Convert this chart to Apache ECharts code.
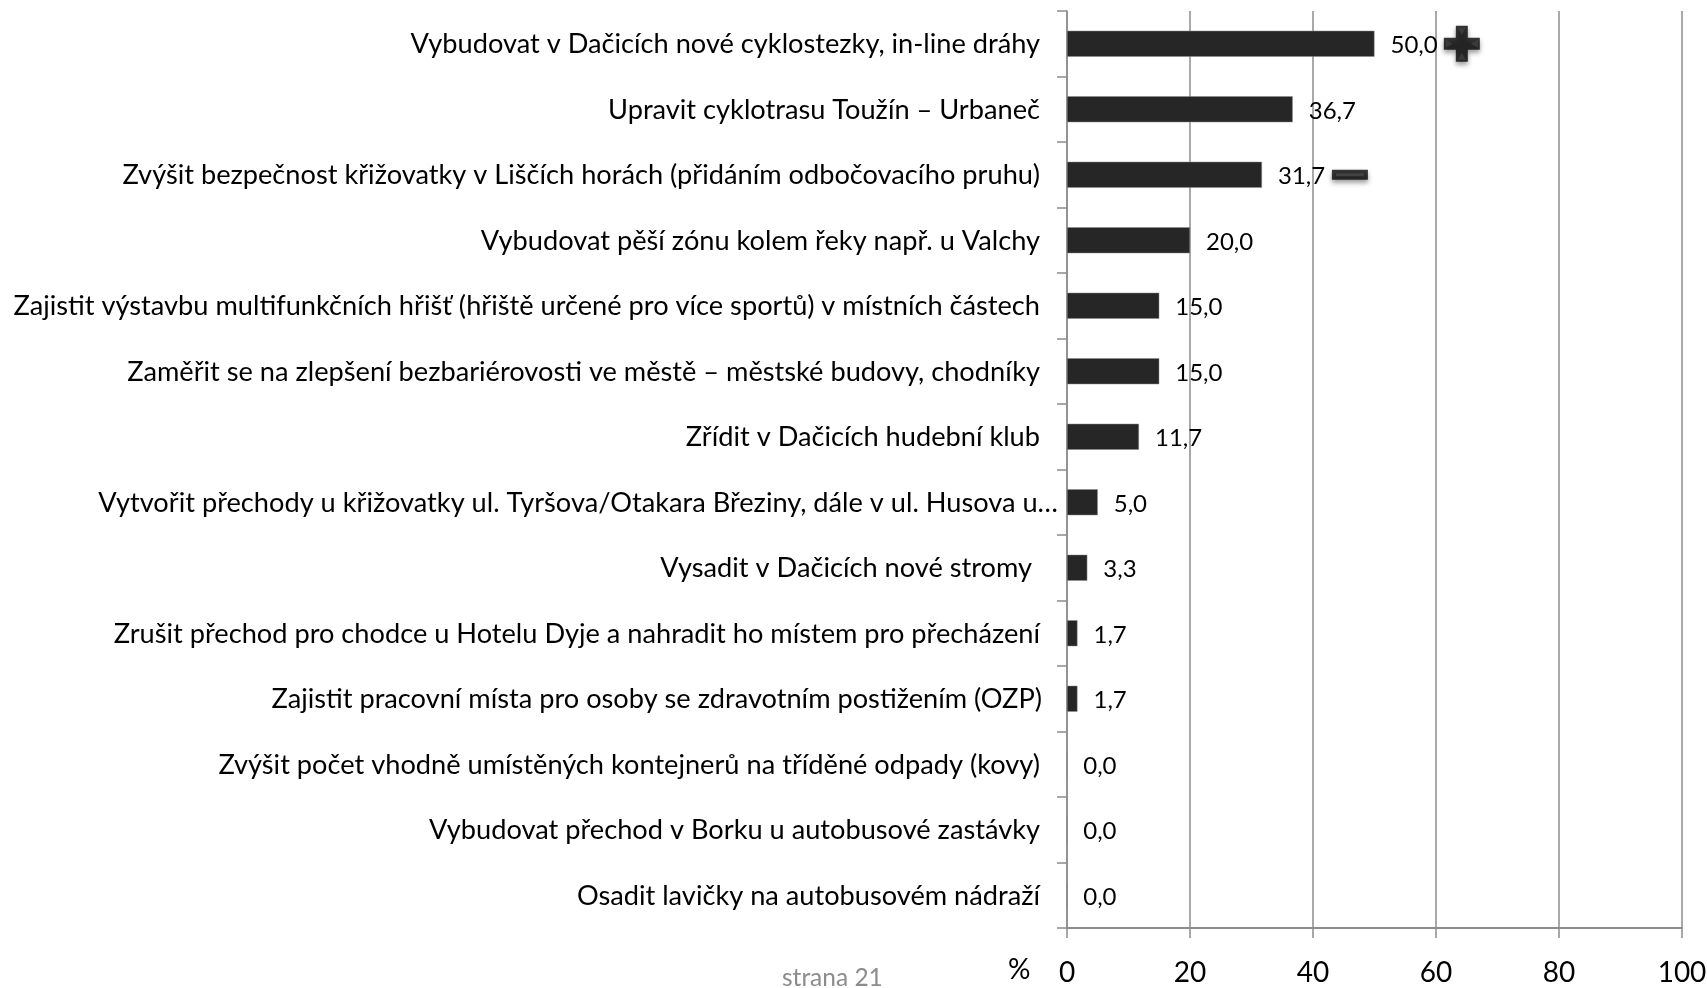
<!DOCTYPE html>
<html>
<head>
<meta charset="utf-8" />
<title>strana 21</title>
<script src="https://cdn.jsdelivr.net/npm/echarts@6/dist/echarts.min.js"></script>
<style>
html, body { margin: 0; padding: 0; background: #fff; }
#main { width: 1707px; height: 988px; }
</style>
</head>
<body>
<div id="main"></div>
<script>
var categories = [
	'Vybudovat v Dačicích nové cyklostezky, in-line dráhy',
	'Upravit cyklotrasu Toužín – Urbaneč',
	'Zvýšit bezpečnost křižovatky v Liščích horách (přidáním odbočovacího pruhu)',
	'Vybudovat pěší zónu kolem řeky např. u Valchy',
	'Zajistit výstavbu multifunkčních hřišť (hřiště určené pro více sportů) v místních částech',
	'Zaměřit se na zlepšení bezbariérovosti ve městě – městské budovy, chodníky',
	'Zřídit v Dačicích hudební klub',
	'Vytvořit přechody u křižovatky ul. Tyršova/Otakara Březiny, dále v ul. Husova u…',
	'Vysadit v Dačicích nové stromy',
	'Zrušit přechod pro chodce u Hotelu Dyje a nahradit ho místem pro přecházení',
	'Zajistit pracovní místa pro osoby se zdravotním postižením (OZP)',
	'Zvýšit počet vhodně umístěných kontejnerů na tříděné odpady (kovy)',
	'Vybudovat přechod v Borku u autobusové zastávky',
	'Osadit lavičky na autobusovém nádraží'
];
var values = [50.0, 36.7, 31.7, 20.0, 15.0, 15.0, 11.7, 5.0, 3.3, 1.7, 1.7, 0.0, 0.0, 0.0];
var valueTicks = [0, 20, 40, 60, 80, 100];
// plus / minus znacky vedle prvniho a tretiho radku
var plusMark = [[64.2, 0]];
var minusMark = [[46, 2]];

var fontName = 'Lato, "Noto Sans", sans-serif';
var gridColor = '#8c8c8c';
var plusPath = 'path://M12,0 L24,0 L24,12 L36,12 L36,24 L24,24 L24,36 L12,36 L12,24 L0,24 L0,12 L12,12 Z';
var plusFacets = 'path://M14,2 L22,2 L18,9 Z M34,14 L34,22 L27,18 Z M14,34 L22,34 L18,27 Z M2,14 L2,22 L9,18 Z';
var minusPath = 'path://M0,0 L36,0 L36,10 L0,10 Z';

// popisky nejsou v originale zarovnane presne, styl podle radku
function labelStyle(index) {
	if (index === 7) return 'long';
	if (index === 8) return 'space';
	if (index === 10) return 'ozp';
	return 'base';
}
function richStyle(right) {
	return { color: '#000', fontFamily: fontName, fontSize: 27.2, padding: [1, right, 0, 0] };
}

var myChart = echarts.init(document.getElementById('main'), null, { renderer: 'canvas' });
var option = {
	animation: false,
	backgroundColor: '#ffffff',
	grid: { left: 1067, right: 25, top: 11, bottom: 60, outerBoundsMode: 'none' },
	xAxis: {
		type: 'value',
		min: valueTicks[0],
		max: valueTicks[valueTicks.length - 1],
		interval: 20,
		axisLine: { show: true, lineStyle: { color: gridColor, width: 2 } },
		axisTick: { show: true, length: 10, lineStyle: { color: gridColor, width: 1.5 } },
		splitLine: { show: true, lineStyle: { color: gridColor, width: 1.5 } },
		axisLabel: { color: '#000', fontFamily: fontName, fontSize: 28, margin: 31, showMaxLabel: true }
	},
	yAxis: {
		type: 'category',
		inverse: true,
		data: categories,
		axisLine: { show: true, onZero: false, lineStyle: { color: gridColor, width: 1.5 } },
		axisTick: { show: true, length: 10, alignWithLabel: false, lineStyle: { color: gridColor, width: 1.5 } },
		axisLabel: {
			margin: 9,
			interval: 0,
			formatter: function (val, index) { return '{' + labelStyle(index) + '|' + val + '}'; },
			rich: { base: richStyle(18), long: richStyle(0), space: richStyle(26), ozp: richStyle(16) }
		}
	},
	series: [{
		type: 'bar',
		data: values,
		barWidth: 26,
		itemStyle: { color: '#262626', borderColor: '#8a8a8a', borderWidth: 0.5 },
		label: {
			show: true,
			position: 'right',
			distance: 16,
			offset: [0, 2],
			color: '#000',
			fontFamily: fontName,
			fontSize: 24,
			formatter: function (p) { return p.value.toFixed(1).replace('.', ','); }
		}
	}, {
		type: 'scatter',
		data: plusMark,
		symbol: plusPath,
		symbolSize: [36, 36],
		silent: true,
		itemStyle: { color: '#060606', shadowColor: 'rgba(0,0,0,0.5)', shadowBlur: 5, shadowOffsetY: 3 }
	}, {
		type: 'scatter',
		data: plusMark,
		symbol: plusFacets,
		symbolSize: [32, 32],
		silent: true,
		itemStyle: { color: '#404040' }
	}, {
		type: 'scatter',
		data: minusMark,
		symbol: minusPath,
		symbolSize: [36, 10],
		silent: true,
		itemStyle: { color: '#060606', shadowColor: 'rgba(0,0,0,0.5)', shadowBlur: 5, shadowOffsetY: 3 }
	}, {
		type: 'scatter',
		data: minusMark,
		symbol: minusPath,
		symbolSize: [28, 3],
		silent: true,
		itemStyle: { color: '#484848' }
	}],
	graphic: [
		{ type: 'text', left: 1008, top: 956, style: { text: '%', fill: '#000', font: '28px ' + fontName } },
		{ type: 'text', left: 782, top: 966, style: { text: 'strana 21', fill: '#8c8c8c', font: '24.5px ' + fontName } }
	]
};
myChart.setOption(option);
</script>
</body>
</html>
